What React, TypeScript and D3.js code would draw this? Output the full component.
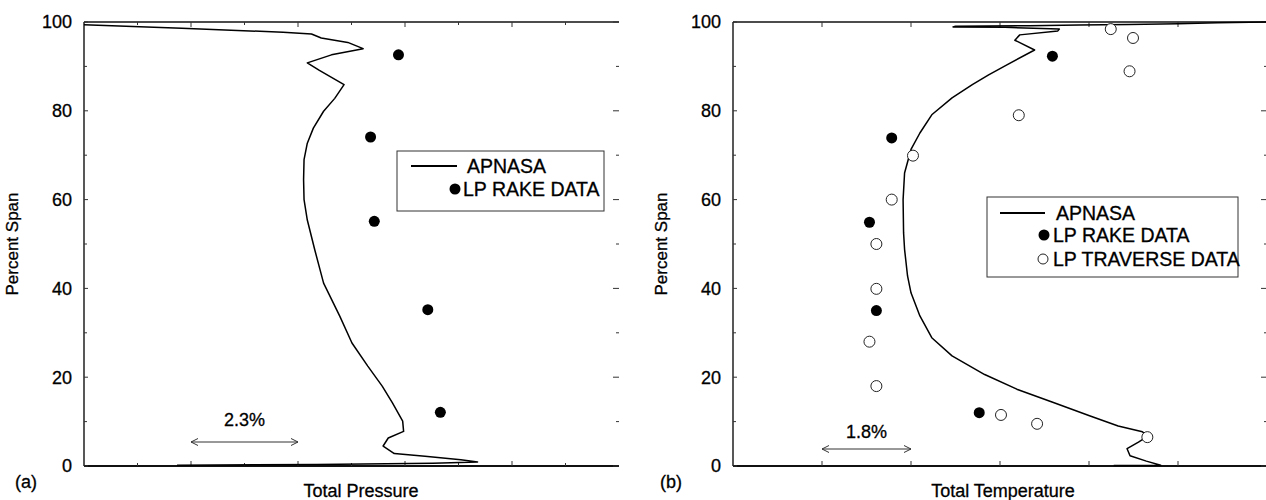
import React from 'react';
import * as d3 from 'd3';

type Pt = [number, number];

// y axis: percent span
const spanTicks = [0, 20, 40, 60, 80, 100];
const spanMinorTicks = [10, 30, 50, 70, 90];

// (a) total pressure, x in % (scale bar = 2.3%)
const pressureApnasa: Pt[] = [
  [0, 99.4], [2.1, 98.6], [4.28, 97.7], [4.89, 97.3], [5.1, 96.4], [5.67, 95.4], [6.0, 94.0],
  [5.32, 92.6], [4.8, 90.8], [5.06, 89.1], [5.59, 85.9], [5.39, 82.8], [5.15, 79.9], [4.93, 76.1],
  [4.8, 72.7], [4.73, 69.0], [4.72, 64.5], [4.73, 60.0], [4.8, 55.4], [4.96, 48.7], [5.15, 41.2],
  [5.5, 33.7], [5.76, 27.7], [6.1, 22.5], [6.41, 18.0], [6.63, 14.2], [6.85, 10.1], [6.87, 7.8],
  [6.54, 6.3], [6.43, 4.5], [6.67, 2.8], [7.33, 2.2], [8.1, 1.4], [8.46, 0.9], [7.5, 0.6],
  [5.0, 0.35], [2.0, 0.15],
];
const pressureRake: Pt[] = [[6.76, 92.6], [6.16, 74.1], [6.24, 55.1], [7.39, 35.2], [7.66, 12.1]];
const pressureMajorTicks = [2.3, 4.6, 6.9, 9.2];
const pressureMinorTicks = [1.15, 3.45, 5.75, 8.05, 10.35];
const pressureBar = [2.3, 4.6];

// (b) total temperature, x in % (scale bar = 1.8%)
const temperatureApnasa: Pt[] = [
  [10.8, 100], [9.8, 99.85], [9.0, 99.6], [8.0, 99.45], [7.0, 99.3], [6.0, 99.15], [4.5, 99.05],
  [4.45, 98.9], [5.5, 98.8], [6.6, 98.4], [6.57, 98.0], [5.8, 97.1], [5.7, 95.9], [6.1, 93.7],
  [5.53, 90.3], [5.17, 88.1], [4.84, 85.9], [4.43, 82.9], [4.02, 79.1], [3.78, 75.0], [3.6, 71.3],
  [3.47, 66.0], [3.44, 60.0], [3.45, 52.5], [3.47, 48.8], [3.53, 42.8], [3.6, 39.0], [3.78, 33.8],
  [4.02, 28.9], [4.43, 24.8], [5.09, 20.6], [5.74, 17.3], [6.48, 14.3], [7.21, 11.3], [7.79, 9.0],
  [8.28, 7.7], [8.4, 6.8], [8.2, 5.4], [7.97, 3.9], [8.03, 2.3], [8.36, 1.1], [8.65, 0.15], [7.7, 0.1],
];
const temperatureRake: Pt[] = [[6.46, 92.3], [3.21, 73.9], [2.76, 54.9], [2.9, 35.0], [4.98, 12.0]];
const temperatureTraverse: Pt[] = [
  [7.64, 98.4], [8.09, 96.4], [8.02, 88.9], [5.78, 79.0], [3.64, 69.9], [3.21, 60.0], [2.9, 50.0],
  [2.9, 39.9], [2.76, 28.0], [2.9, 18.0], [5.42, 11.5], [6.15, 9.5], [8.38, 6.5],
];
const temperatureTicks = [1.8, 3.6, 5.4, 7.2, 9.0];
const temperatureBar = [1.8, 3.6];

const FONT = 'Liberation Sans, Arial, Helvetica, sans-serif';
const TOP = 22;
const BOTTOM = 466;

function Panel(props: any) {
  const { left, right, xMax, apnasa, rake, traverse, majorTicks, minorTicks, bar, barLabel, barY,
    barLabelY, xTitle, titleX, tag, tagX, legend } = props;
  const x = d3.scaleLinear().domain([0, xMax]).range([left, right]);
  const y = d3.scaleLinear().domain([0, 100]).range([BOTTOM, TOP]);
  const line = d3.line<Pt>().x(d => x(d[0])).y(d => y(d[1]));
  const bx0 = x(bar[0]), bx1 = x(bar[1]), by = barY;

  return (
    <g fontFamily={FONT} fill="#000" stroke="none">
      {/* frame: left, top, bottom (no right border) */}
      <line x1={left} x2={left} y1={TOP} y2={BOTTOM} stroke="#111" strokeWidth={1.4} />
      <line x1={left} x2={right} y1={TOP} y2={TOP} stroke="#111" strokeWidth={1.6} />
      <line x1={left} x2={right} y1={BOTTOM} y2={BOTTOM} stroke="#111" strokeWidth={1.8} />

      {spanTicks.map(t => (
        <g key={'s' + t}>
          <line x1={left} x2={left + 4} y1={y(t)} y2={y(t)} stroke="#333" />
          <line x1={right - 6} x2={right} y1={y(t)} y2={y(t)} stroke="#333" />
          <text x={left - 12} y={y(t)} dy="0.35em" textAnchor="end" fontSize={18}
            stroke="#000" strokeWidth={0.3}>{t}</text>
        </g>
      ))}
      {spanMinorTicks.map(t => (
        <g key={'m' + t}>
          <line x1={left} x2={left + 3} y1={y(t)} y2={y(t)} stroke="#333" />
          <line x1={right - 3} x2={right} y1={y(t)} y2={y(t)} stroke="#333" />
        </g>
      ))}
      {majorTicks.map((t: number) => (
        <g key={'x' + t}>
          <line x1={x(t)} x2={x(t)} y1={TOP} y2={TOP + 5} stroke="#333" />
          <line x1={x(t)} x2={x(t)} y1={BOTTOM} y2={BOTTOM - 5} stroke="#333" />
        </g>
      ))}
      {minorTicks.map((t: number) => (
        <g key={'n' + t}>
          <line x1={x(t)} x2={x(t)} y1={TOP} y2={TOP + 3} stroke="#333" />
          <line x1={x(t)} x2={x(t)} y1={BOTTOM} y2={BOTTOM - 3} stroke="#333" />
        </g>
      ))}

      <path d={line(apnasa) || ''} fill="none" stroke="#000" strokeWidth={1.5} strokeLinejoin="round" />
      {rake.map((d: Pt, i: number) => (
        <circle key={'r' + i} cx={x(d[0])} cy={y(d[1])} r={5.5} fill="#000" />
      ))}
      {traverse && traverse.map((d: Pt, i: number) => (
        <circle key={'t' + i} cx={x(d[0])} cy={y(d[1])} r={5.5} fill="#fff" stroke="#222" strokeWidth={1} />
      ))}

      {/* scale bar */}
      <line x1={bx0} x2={bx1} y1={by} y2={by} stroke="#333" strokeWidth={1} />
      <path d={`M${bx0 + 7},${by - 3.5}L${bx0},${by}L${bx0 + 7},${by + 3.5}`} fill="none" stroke="#333" />
      <path d={`M${bx1 - 7},${by - 3.5}L${bx1},${by}L${bx1 - 7},${by + 3.5}`} fill="none" stroke="#333" />
      <text x={(bx0 + bx1) / 2} y={barLabelY} textAnchor="middle" fontSize={18}
        stroke="#000" strokeWidth={0.3}>{barLabel}</text>

      <text transform={`translate(${left - 66},${(TOP + BOTTOM) / 2}) rotate(-90)`} textAnchor="middle"
        fontSize={17} stroke="#000" strokeWidth={0.3}>Percent Span</text>
      <text x={titleX} y={497} textAnchor="middle" fontSize={18} stroke="#000" strokeWidth={0.3}>{xTitle}</text>
      <text x={tagX} y={488} fontSize={18} stroke="#000" strokeWidth={0.3}>{tag}</text>

      {/* legend */}
      <rect x={legend.x} y={legend.y} width={legend.w} height={legend.h} fill="#fff" stroke="#333" strokeWidth={1} />
      {legend.rows.map((r: any, i: number) => (
        <g key={'l' + i} transform={`translate(0,${r.y})`}>
          {r.kind === 'line' && <line x1={r.sx0} x2={r.sx1} y1={0} y2={0} stroke="#000" strokeWidth={2} />}
          {r.kind === 'dot' && <circle cx={r.sx} cy={0} r={5.5} fill="#000" />}
          {r.kind === 'open' && <circle cx={r.sx} cy={0} r={5} fill="#fff" stroke="#222" />}
          <text x={r.tx} y={0} dy="0.36em" fontSize={19.5} stroke="#000" strokeWidth={0.3}>{r.label}</text>
        </g>
      ))}
    </g>
  );
}

export default function App() {
  return (
    <svg width={1266} height={500} style={{ position: 'absolute', left: 0, top: 0, background: '#fff' }}>
      <Panel
        left={84} right={619} xMax={11.5}
        apnasa={pressureApnasa} rake={pressureRake}
        majorTicks={pressureMajorTicks} minorTicks={pressureMinorTicks}
        bar={pressureBar} barLabel="2.3%" barY={442} barLabelY={426}
        xTitle="Total Pressure" titleX={361} tag="(a)" tagX={15}
        legend={{
          x: 397, y: 151, w: 207, h: 60,
          rows: [
            { kind: 'line', y: 166, sx0: 411, sx1: 457, tx: 467, label: 'APNASA' },
            { kind: 'dot', y: 189, sx: 455, tx: 463, label: 'LP RAKE DATA' },
          ],
        }}
      />
      <Panel
        left={733} right={1267} xMax={10.8}
        apnasa={temperatureApnasa} rake={temperatureRake} traverse={temperatureTraverse}
        majorTicks={temperatureTicks} minorTicks={[]}
        bar={temperatureBar} barLabel="1.8%" barY={449} barLabelY={438}
        xTitle="Total Temperature" titleX={1003} tag="(b)" tagX={660}
        legend={{
          x: 987, y: 197, w: 251, h: 80,
          rows: [
            { kind: 'line', y: 213, sx0: 1000, sx1: 1045, tx: 1056, label: 'APNASA' },
            { kind: 'dot', y: 235, sx: 1044, tx: 1053, label: 'LP RAKE DATA' },
            { kind: 'open', y: 259, sx: 1043, tx: 1053, label: 'LP TRAVERSE DATA' },
          ],
        }}
      />
    </svg>
  );
}
